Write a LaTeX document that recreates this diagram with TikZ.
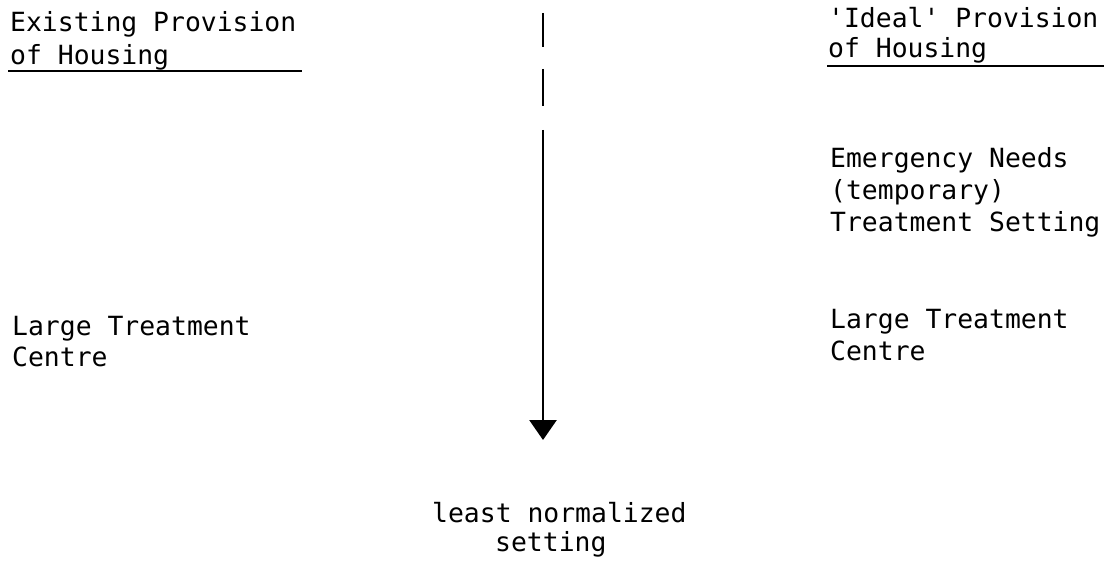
\documentclass[tikz,border=0pt]{standalone}
\usepackage{fontspec}
\newfontfamily\twfont{DejaVu Sans Mono}
\usetikzlibrary{arrows.meta}
\begin{document}
\begin{tikzpicture}[x=1pt,y=-1pt,
  txt/.style={anchor=base west,inner sep=0pt,font=\twfont\fontsize{26.4}{32}\selectfont},
  rule/.style={line width=1.5pt},
  axis/.style={line width=2.8pt,dash pattern=on 34pt off 22pt on 37pt off 24pt on 600pt,
    -{Triangle[length=20pt,width=27pt]}}]
\useasboundingbox (0,0) rectangle (1109,564);
% left header
\node[txt] (lh1) at (10,32) {Existing Provision};
\node[txt] (lh2) at (10,65) {of Housing};
\coordinate (lu1) at (8,71);
\coordinate (lu2) at (302,71);
\draw[rule] (lu1) -- (lu2);
% right header
\node[txt] (rh1) at (828,28) {'Ideal' Provision};
\node[txt] (rh2) at (828,58) {of Housing};
\coordinate (ru1) at (827,66);
\coordinate (ru2) at (1104,66);
\draw[rule] (ru1) -- (ru2);
% right items
\node[txt] (re1) at (830,168) {Emergency Needs};
\node[txt] (re2) at (830,200) {(temporary)};
\node[txt] (re3) at (830,232) {Treatment Setting};
\node[txt] (rl1) at (830,328) {Large Treatment};
\node[txt] (rl2) at (830,360) {Centre};
% left items
\node[txt] (ll1) at (12,335) {Large Treatment};
\node[txt] (ll2) at (12,366) {Centre};
% centre
\node[txt] (c1) at (432,522) {least normalized};
\node[txt] (c2) at (495,551) {setting};
\coordinate (atop) at (543,13);
\coordinate (abot) at (543,440);
\draw[axis] (atop) -- (abot);
\end{tikzpicture}
\end{document}
